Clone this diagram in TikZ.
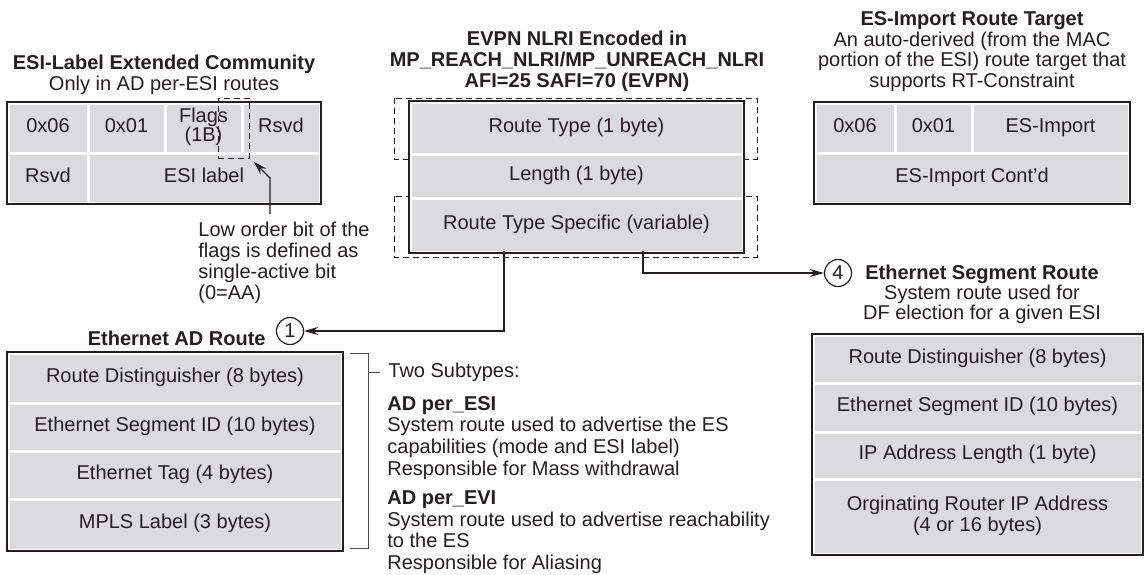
\documentclass[tikz,border=0pt]{standalone}
\usepackage{fontspec}
\setmainfont{Liberation Sans}
\usetikzlibrary{arrows.meta, positioning}
\definecolor{monGris}{RGB}{219, 219, 221}
\definecolor{monEncre}{RGB}{35, 31, 32}
\lineskiplimit=-10pt
\tikzset{
  cadre/.style={draw=monEncre, fill=white, line width=1.3pt},
  cellule/.style 2 args={fill=monGris, inner sep=0pt, align=center,
    minimum width={(#1)*0.5pt}, minimum height={(#2)*0.5pt},
    execute at begin node=\strut},
  pointille/.style={draw=monEncre, dash pattern=on 3pt off 2pt, line width=0.5pt},
  titre/.style={anchor=north, align=center, inner sep=0pt},
  rond/.style={circle, draw=monEncre, line width=0.6pt, minimum size=13.5pt, inner sep=0pt},
  fleche/.style={->, >={Stealth[length=7pt, width=4pt]}, line width=0.6pt},
  crochet/.style={draw=black!70, line width=0.5pt}
}

\begin{document}
\begin{tikzpicture}[x=0.5pt, y=-0.5pt, color=monEncre,
    font=\fontsize{10}{10.4}\selectfont]
    \useasboundingbox (0,0) rectangle (1144,574);

    % ESI-Label Extended Community
    \node[titre] (titESI) at (164,55) {\textbf{ESI-Label Extended Community}\\Only in AD per-ESI routes};
    \draw[cadre] (7,102) rectangle (321,204);
    \node[cellule={77}{47}] (esiA) at (48,128) {0x06};
    \node[cellule={74}{47}] (esiB) at (126.5,128) {0x01};
    \node[cellule={74}{47}] (esiFlags) at (203.5,128) {Flags\\[-1pt](1B)};
    \node[cellule={75}{47}] (esiRsvd) at (281,128) {Rsvd};
    \node[cellule={77}{47}] (esiRsvdB) at (48,178) {Rsvd};
    \node[cellule={229}{47}] (esiLabel) at (204,178) {ESI label};
    \node[pointille, minimum width=15.5pt, minimum height=30pt] (bitBas) at (233.5,128) {};

    % Bit de poids faible
    \node[anchor=north west, align=left, inner sep=0pt] (txtBit) at (198,222)
      {Low order bit of the\\flags is defined as\\single-active bit\\(0=AA)};
    \coordinate (coude) at (270,178);
    \draw[fleche] ([yshift=4pt]txtBit.north -| coude) -- (coude)
      -- ([xshift=2pt, yshift=-1.5pt]bitBas.south east);

    % EVPN NLRI
    \node[titre] (titNLRI) at (577,31) {\textbf{EVPN NLRI Encoded in}\\\textbf{MP\_REACH\_NLRI/MP\_UNREACH\_NLRI}\\\textbf{AFI=25 SAFI=70 (EVPN)}};
    \draw[pointille] (394,98) rectangle (757,159);
    \draw[pointille] (394,196) rectangle (757,257);
    \draw[cadre] (409,101) rectangle (744,253);
    \node[cellule={330}{49}] (rtype) at (576.5,128) {Route Type (1 byte)};
    \node[cellule={330}{41}] (rlen) at (576.5,176) {Length (1 byte)};
    \node[cellule={330}{51}] (rts) at (576.5,225) {Route Type Specific (variable)};

    % ES-Import Route Target
    \node[titre] (titRT) at (972,11) {\textbf{ES-Import Route Target}\\An auto-derived (from the MAC\\portion of the ESI) route target that\\supports RT-Constraint};
    \draw[cadre] (814,102) rectangle (1130,204);
    \node[cellule={77}{47}] (rtA) at (855,128) {0x06};
    \node[cellule={74}{47}] (rtB) at (933.5,128) {0x01};
    \node[cellule={154}{47}] (rtImp) at (1050.5,128) {ES-Import};
    \node[cellule={311}{47}] (rtSuite) at (972,178) {ES-Import Cont'd};

    % Renvois 1 et 4
    \node[rond] (r1) at (290,331) {1};
    \node[rond] (r4) at (838,273) {4};
    \coordinate (prise1) at (504,0);
    \coordinate (prise4) at (643,0);
    \draw[fleche] (rts.south -| prise1) |- (r1);
    \draw[fleche] (rts.south -| prise4) |- (r4);

    % Ethernet AD Route
    \node[anchor=base east, inner sep=0pt] (titAD) at (266,345) {\textbf{Ethernet AD Route}};
    \draw[cadre] (7,352) rectangle (343,551);
    \node[cellule={331}{47}] (adRD) at (175,378) {Route Distinguisher (8 bytes)};
    \node[cellule={331}{45}] (adESI) at (175,427) {Ethernet Segment ID (10 bytes)};
    \node[cellule={331}{45}] (adTag) at (175,475) {Ethernet Tag (4 bytes)};
    \node[cellule={331}{48}] (adMPLS) at (175,524.5) {MPLS Label (3 bytes)};

    % Sous-types
    \draw[crochet] (350,353) -- (368,353) -- (368,548) -- (350,548);
    \node[anchor=west, inner sep=0pt] (deuxSt) at (388,372) {Two Subtypes:};
    \draw[crochet] (368,372) -- ([xshift=-4pt]deuxSt.west);
    \node[anchor=north west, align=left, inner sep=0pt, font=\fontsize{10}{10.8}\selectfont] (sousTypes) at (387,396)
      {\textbf{AD per\_ESI}\\System route used to advertise the ES\\capabilities (mode and ESI label)\\Responsible for Mass withdrawal\\[4pt]%
       \textbf{AD per\_EVI}\\System route used to advertise reachability\\to the ES\\Responsible for Aliasing};

    % Ethernet Segment Route
    \node[titre, font=\fontsize{10}{9.9}\selectfont] (titES) at (982,265) {\textbf{Ethernet Segment Route}\\System route used for\\DF election for a given ESI};
    \draw[cadre] (812,334) rectangle (1143,555);
    \node[cellule={326}{45}] (esRD) at (977.5,359) {Route Distinguisher (8 bytes)};
    \node[cellule={326}{46}] (esESI) at (977.5,407.5) {Ethernet Segment ID (10 bytes)};
    \node[cellule={326}{44}] (esLen) at (977.5,455.5) {IP Address Length (1 byte)};
    \node[cellule={326}{72}] (esIP) at (977.5,516.5) {Orginating Router IP Address\\(4 or 16 bytes)};
\end{tikzpicture}
\end{document}
